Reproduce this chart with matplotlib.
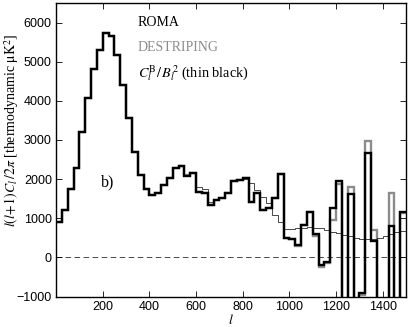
import numpy as np
import matplotlib
matplotlib.use("Agg")
import matplotlib.pyplot as plt

plt.rcParams["font.family"] = "Liberation Sans"
plt.rcParams["mathtext.fontset"] = "stix"

# bin edges in multipole l (25-wide bins)
bin_edges = np.arange(0, 1501, 25)

# ROMA spectrum (thick black); -3000 = bin falls below the plot
roma = [900, 1210, 1750, 2275, 3200, 4080, 4825, 5300, 5720, 5660,
        5180, 4400, 3570, 2700, 2100, 1740, 1590, 1640, 1850, 2030,
        2280, 2340, 2080, 2160, 1680, 1640, 1340, 1470, 1510, 1640,
        1950, 1980, 2020, 1425, 1640, 1210, 1255, 1510, 2130, 505,
        470, 320, 830, 1170, 600, -190, -110, 1270, 1960, -3000,
        1620, -3000, -910, 2660, 430, -3000, -3000, 800, -3000, 1170]

# DESTRIPING spectrum (thick grey)
destriping = [900, 1210, 1750, 2275, 3200, 4080, 4825, 5300, 5720, 5660,
              5180, 4400, 3570, 2700, 2100, 1740, 1590, 1640, 1850, 2030,
              2280, 2340, 2100, 2160, 1680, 1640, 1340, 1470, 1510, 1640,
              1950, 1980, 2020, 1425, 1640, 1210, 1255, 1510, 2130, 505,
              470, 280, 830, 1170, 560, -250, -150, 950, 1880, -3000,
              1800, -3000, -950, 2970, 700, -3000, -3000, 1640, -3000, 1130]

# C_l^B / B_l^2 (thin black)
cl_beam = [900, 1210, 1750, 2275, 3200, 4080, 4825, 5300, 5720, 5660,
           5180, 4400, 3570, 2700, 2100, 1740, 1590, 1640, 1850, 2030,
           2280, 2340, 2100, 2160, 1800, 1760, 1420, 1470, 1520, 1680,
           1960, 1990, 2000, 1900, 1720, 1550, 1380, 1084, 913, 720,
           720, 740, 760, 770, 760, 740, 700, 660, 620, 580,
           540, 500, 480, 470, 470, 500, 540, 600, 640, 680]

fig = plt.figure(figsize=(4.09, 3.27), dpi=100)
ax = fig.add_axes([0.137, 0.093, 0.856, 0.898])

ax.stairs(destriping, bin_edges, color="#8c8c8c", lw=1.7, baseline=None)
ax.stairs(roma, bin_edges, color="black", lw=1.7, baseline=None)
ax.stairs(cl_beam, bin_edges, color="black", lw=0.5, baseline=None)
ax.axhline(0, color="black", lw=0.5, linestyle=(0, (8, 5)))

ax.set_xlim(0, 1500)
ax.set_ylim(-1000, 6500)
ax.set_xticks([200, 400, 600, 800, 1000, 1200, 1400])
ax.set_yticks(range(-1000, 6001, 1000))
ax.tick_params(direction="in", top=True, right=True, length=4, width=0.6,
               labelsize=9, pad=3)
for s in ax.spines.values():
    s.set_linewidth(1.0)

serif = "Liberation Serif"
ax.text(0.234, 0.932, "ROMA", transform=ax.transAxes, family=serif,
        fontsize=10, va="center", color="black")
ax.text(0.234, 0.848, "DESTRIPING", transform=ax.transAxes, family=serif,
        fontsize=10, va="center", color="#8c8c8c")
ax.text(0.234, 0.76, r"$C_l^{\mathrm{B}}/\,B_l^2$ (thin black)",
        transform=ax.transAxes, family=serif, fontsize=10.3, va="center")
ax.text(0.128, 0.39, "b)", transform=ax.transAxes, family=serif,
        fontsize=11.5, va="center")

ax.set_ylabel(r"$l(l\!+\!1)C_l\,/2\pi$ [thermodynamic $\mathrm{\mu K}^2$]",
              family=serif, fontsize=10)
ax.yaxis.set_label_coords(-0.1, 0.565)
ax.set_xlabel(r"$l$", fontsize=10, labelpad=0)

fig.savefig("out.png", dpi=100)
